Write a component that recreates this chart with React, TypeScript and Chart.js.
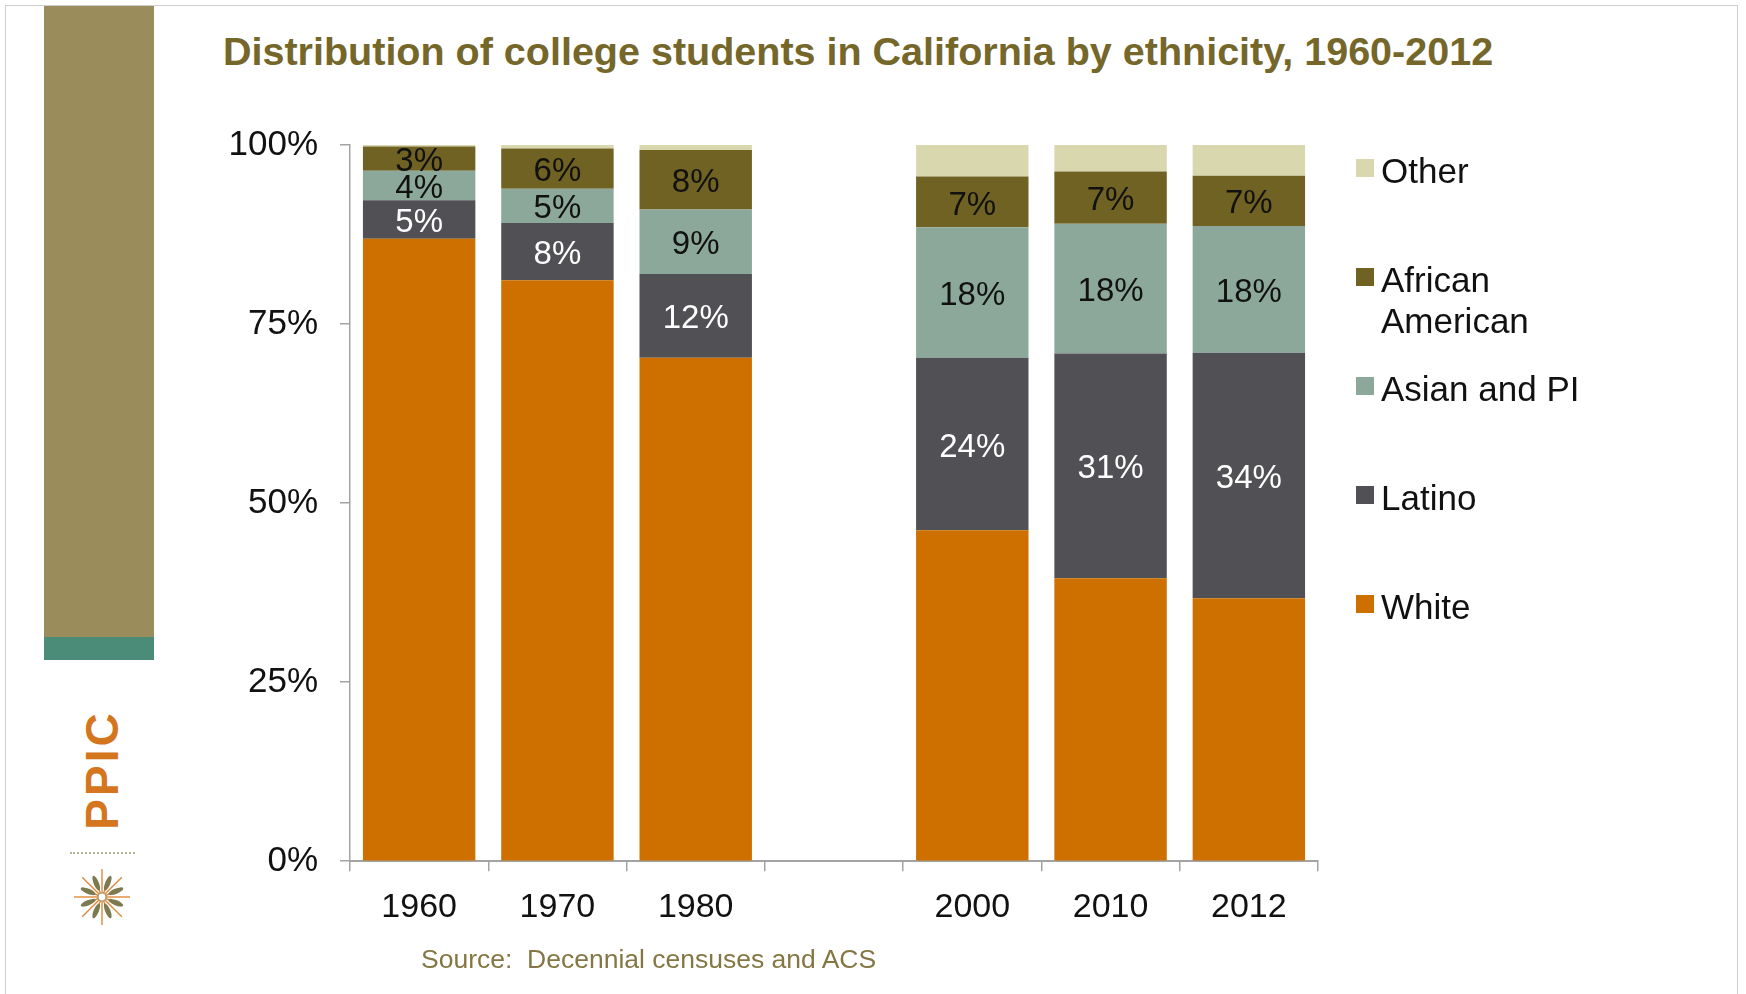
import React, { useEffect, useRef } from "react";
import { Chart, registerables } from "chart.js";

Chart.register(...registerables);

// ---- Data ----
const categories = ["1960", "1970", "1980", "", "2000", "2010", "2012"];
const seriesNames = ["White", "Latino", "Asian and PI", "African American", "Other"];
const white = [86.9, 81.1, 70.3, null, 46.2, 39.5, 36.7];
const latino = [5.4, 8.0, 11.7, null, 24.1, 31.4, 34.3];
const asianPI = [4.1, 4.8, 9.0, null, 18.2, 18.1, 17.7];
const africanAmerican = [3.4, 5.6, 8.3, null, 7.1, 7.3, 7.0];
const other = [0.2, 0.5, 0.7, null, 4.4, 3.7, 4.3];
const yTickValues = [0, 25, 50, 75, 100];

const titleText = "Distribution of college students in California by ethnicity, 1960-2012";
const sourceText = "Source:  Decennial censuses and ACS";

// ---- Styles ----
const FONT = '"Liberation Sans", Arial, Helvetica, sans-serif';
const seriesColors = ["#cd7000", "#515155", "#8ca89b", "#706222", "#d9d7ae"];
const labelColors: (string | null)[] = [null, "#ffffff", "#111111", "#111111", null];
const axisColor = "#a3a3a3";

const segmentLabelPlugin = {
  id: "segmentLabels",
  afterDatasetsDraw(chart: any) {
    const ctx = chart.ctx;
    ctx.save();
    ctx.font = `33px ${FONT}`;
    ctx.textAlign = "center";
    ctx.textBaseline = "middle";
    chart.data.datasets.forEach((ds: any, di: number) => {
      const color = labelColors[di];
      if (!color) return;
      const meta = chart.getDatasetMeta(di);
      meta.data.forEach((el: any, i: number) => {
        const v = ds.data[i];
        if (v == null) return;
        const p = el.getProps(["x", "y", "base"], true);
        ctx.fillStyle = color;
        ctx.fillText(Math.round(v) + "%", p.x, (p.y + p.base) / 2 + 3.5);
      });
    });
    ctx.restore();
  },
};

const sideLegendPlugin = {
  id: "sideLegend",
  afterDraw(chart: any) {
    const ctx = chart.ctx;
    const area = chart.chartArea;
    const x0 = area.right + 38;
    const textX = x0 + 25;
    const maxW = 220;
    const lineH = 41;
    const step = 109;
    ctx.save();
    ctx.font = `35px ${FONT}`;
    ctx.textAlign = "left";
    ctx.textBaseline = "alphabetic";
    const n = chart.data.datasets.length;
    for (let k = 0; k < n; k++) {
      const di = n - 1 - k;
      const ds = chart.data.datasets[di];
      const baseY = area.top + 38 + step * k;
      ctx.fillStyle = ds.backgroundColor;
      ctx.fillRect(x0, baseY - 24, 18, 18);
      const words = String(ds.label).split(" ");
      const lines: string[] = [];
      let cur = "";
      for (const w of words) {
        const test = cur ? cur + " " + w : w;
        if (ctx.measureText(test).width > maxW && cur) {
          lines.push(cur);
          cur = w;
        } else cur = test;
      }
      if (cur) lines.push(cur);
      ctx.fillStyle = "#111111";
      lines.forEach((ln, li) => ctx.fillText(ln, textX, baseY + li * lineH));
    }
    ctx.restore();
  },
};

function Starburst() {
  const rays = [];
  for (let i = 0; i < 16; i++) {
    const a = (i * Math.PI * 2) / 16;
    const r = i % 2 === 0 ? 28 : 22;
    rays.push(
      <line key={"o" + i} x1={30} y1={30} x2={30 + r * Math.cos(a)} y2={30 + r * Math.sin(a)} stroke="#e0893a" strokeWidth={1.4} />
    );
  }
  const leaves = [];
  for (let i = 0; i < 8; i++) {
    const deg = i * 45 + 22.5;
    leaves.push(
      <ellipse key={"l" + i} cx={30 + 15} cy={30} rx={8} ry={2.6} fill="#7d7a50" transform={`rotate(${deg} 30 30)`} />
    );
  }
  return (
    <svg width={60} height={60} style={{ position: "absolute", left: 72, top: 867 }}>
      {rays}
      {leaves}
      <circle cx={30} cy={30} r={4} fill="#fff" stroke="#9a9570" strokeWidth={1.2} />
    </svg>
  );
}

export default function App() {
  const canvasRef = useRef<HTMLCanvasElement | null>(null);

  useEffect(() => {
    if (!canvasRef.current) return;
    const seriesData = [white, latino, asianPI, africanAmerican, other];
    const chart = new Chart(canvasRef.current, {
      type: "bar",
      data: {
        labels: categories,
        datasets: seriesNames.map((name, i) => ({
          label: name,
          data: seriesData[i] as any,
          backgroundColor: seriesColors[i],
          borderWidth: 0,
          barPercentage: 0.813,
          categoryPercentage: 1,
        })),
      },
      options: {
        responsive: false,
        animation: false,
        devicePixelRatio: 1,
        layout: { padding: { left: 223, right: 428, top: 145, bottom: 50 } },
        plugins: {
          legend: { display: false },
          title: { display: false },
          tooltip: { enabled: false },
        },
        scales: {
          x: {
            stacked: true,
            grid: {
              display: true,
              drawOnChartArea: false,
              drawTicks: true,
              tickLength: 10,
              color: axisColor,
              lineWidth: 1.5,
            },
            border: { display: true, color: axisColor, width: 2 },
            ticks: {
              font: { family: FONT, size: 34 },
              color: "#111111",
              padding: 16,
              maxRotation: 0,
              autoSkip: false,
            },
          },
          y: {
            stacked: true,
            min: 0,
            max: 100,
            afterBuildTicks: (axis: any) => {
              axis.ticks = yTickValues.map((v) => ({ value: v }));
            },
            afterFit: (axis: any) => {
              axis.width = 127;
            },
            grid: {
              display: true,
              drawOnChartArea: false,
              drawTicks: true,
              tickLength: 10,
              color: axisColor,
              lineWidth: 1.5,
            },
            border: { display: true, color: axisColor, width: 1.5 },
            ticks: {
              font: { family: FONT, size: 35 },
              color: "#111111",
              padding: 22,
              callback: (v: any) => v + "%",
            },
          },
        },
      },
      plugins: [segmentLabelPlugin, sideLegendPlugin],
    });
    return () => chart.destroy();
  }, []);

  return (
    <div style={{ position: "absolute", left: 0, top: 0, width: 1746, height: 994, overflow: "hidden", background: "#ffffff", fontFamily: FONT }}>
      {/* slide frame */}
      <div style={{ position: "absolute", left: 5, top: 5, width: 1733, height: 995, border: "1px solid #cfcfcf", boxSizing: "border-box" }} />
      {/* left decoration */}
      <div style={{ position: "absolute", left: 44, top: 6, width: 110, height: 631, background: "#9b8c5c" }} />
      <div style={{ position: "absolute", left: 44, top: 637, width: 110, height: 23, background: "#4b8c78" }} />
      <div
        style={{
          position: "absolute",
          left: 102,
          top: 770,
          transform: "translate(-50%, -50%) rotate(-90deg)",
          color: "#d4761e",
          fontWeight: "bold",
          fontSize: 46,
          letterSpacing: 3,
          lineHeight: 1,
          whiteSpace: "nowrap",
        }}
      >
        PPIC
      </div>
      <div style={{ position: "absolute", left: 70, top: 852, width: 65, height: 0, borderTop: "2px dotted #b5b29a" }} />
      <Starburst />
      {/* title */}
      <div style={{ position: "absolute", left: 223, top: 32, fontSize: 39.5, lineHeight: 1, fontWeight: "bold", color: "#75672a", whiteSpace: "nowrap" }}>
        {titleText}
      </div>
      <canvas ref={canvasRef} width={1746} height={994} style={{ position: "absolute", left: 0, top: 0, width: 1746, height: 994 }} />
      {/* source */}
      <div style={{ position: "absolute", left: 421, top: 946, fontSize: 26.5, lineHeight: 1, color: "#857744", whiteSpace: "pre" }}>
        {sourceText}
      </div>
    </div>
  );
}
